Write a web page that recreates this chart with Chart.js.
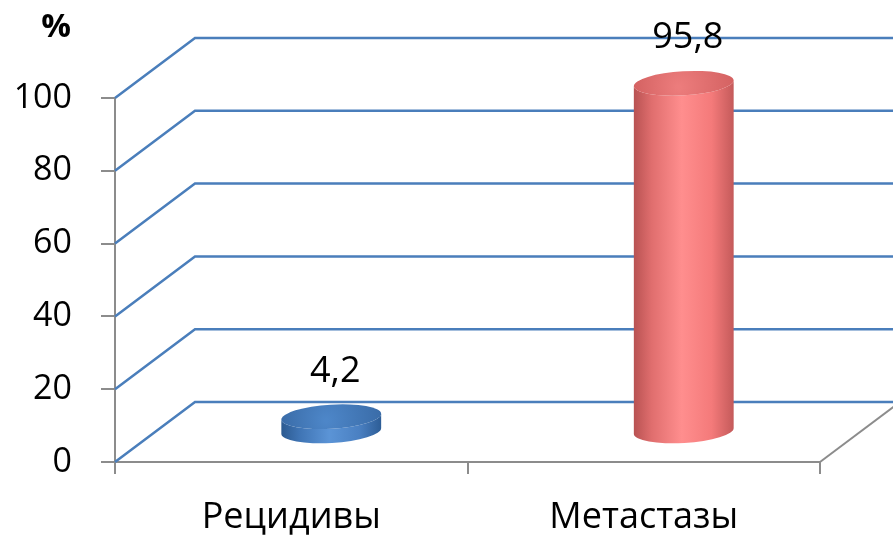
<!DOCTYPE html>
<html>
<head>
<meta charset="utf-8">
<script src="https://cdn.jsdelivr.net/npm/chart.js@4"></script>
<style>
  html, body { margin: 0; padding: 0; background: #fff; }
  #wrap { width: 893px; height: 535px; position: relative; }
</style>
</head>
<body>
<div id="wrap"><canvas id="chart"></canvas></div>
<script>
const categories = ["Рецидивы", "Метастазы"];
const values = [4.2, 95.8];
const valueLabels = ["4,2", "95,8"];
const yTicks = [0, 20, 40, 60, 80, 100];

const FONT = "'Open Sans', 'DejaVu Sans', sans-serif";
const GRID_BLUE = "#4a7ebb";
const AXIS_GREY = "#8c8c8c";
// depth of the fake 3d box
const DEPTH_X = 80;
const DEPTH_Y = 60;

const cylinderStyles = [
  {
    body: ["#2c5a90", "#3f74b4", "#5b94d6", "#4a80c2", "#2d5d96"],
    top: ["#4d86c8", "#3a6ca8"],
  },
  {
    body: ["#b85252", "#e06e6e", "#ff8e8e", "#f47a7a", "#c45a5a"],
    top: ["#ec7c7c", "#d46262"],
  },
];

// sloped gridlines + floor edge, built from the y scale ticks
const boxPlugin = {
  id: "box3d",
  beforeDatasetsDraw(chart) {
    const { ctx, chartArea, scales } = chart;
    const y = scales.y;
    ctx.save();
    ctx.lineWidth = 2.5;
    ctx.strokeStyle = GRID_BLUE;
    yTicks.forEach((t) => {
      const py = y.getPixelForValue(t);
      ctx.beginPath();
      ctx.moveTo(chartArea.left, py);
      ctx.lineTo(chartArea.left + DEPTH_X, py - DEPTH_Y);
      ctx.lineTo(chart.width, py - DEPTH_Y);
      ctx.stroke();
    });
    // right floor edge
    const py0 = y.getPixelForValue(0);
    ctx.strokeStyle = AXIS_GREY;
    ctx.lineWidth = 2;
    ctx.beginPath();
    ctx.moveTo(chartArea.right, py0);
    ctx.lineTo(chartArea.right + DEPTH_X, py0 - DEPTH_Y);
    ctx.stroke();
    ctx.restore();
  },
};

// cylinders drawn over the (invisible) bar elements
const cylinderPlugin = {
  id: "cylinders",
  afterDatasetsDraw(chart) {
    const { ctx } = chart;
    const meta = chart.getDatasetMeta(0);
    meta.data.forEach((bar, i) => {
      const st = cylinderStyles[i];
      const cx = bar.x + DEPTH_X / 2;
      const top = bar.y - DEPTH_Y / 2;
      const base = bar.base - DEPTH_Y / 2;
      const rx = bar.width / 2;
      const ry = 12;
      const rot = -0.06;
      const dx = rx * Math.cos(rot);
      const dy = rx * Math.sin(rot);

      ctx.save();
      const g = ctx.createLinearGradient(cx - rx, 0, cx + rx, 0);
      g.addColorStop(0, st.body[0]);
      g.addColorStop(0.18, st.body[1]);
      g.addColorStop(0.48, st.body[2]);
      g.addColorStop(0.78, st.body[3]);
      g.addColorStop(1, st.body[4]);
      ctx.fillStyle = g;
      ctx.beginPath();
      ctx.moveTo(cx - dx, top - dy);
      ctx.lineTo(cx - dx, base - dy);
      ctx.ellipse(cx, base, rx, ry, rot, Math.PI, 0, true);
      ctx.lineTo(cx + dx, top + dy);
      ctx.ellipse(cx, top, rx, ry, rot, 0, Math.PI, false);
      ctx.closePath();
      ctx.fill();

      const tg = ctx.createRadialGradient(cx - 5, top + 4, 2, cx, top, rx);
      tg.addColorStop(0, st.top[0]);
      tg.addColorStop(1, st.top[1]);
      ctx.fillStyle = tg;
      ctx.beginPath();
      ctx.ellipse(cx, top, rx, ry, rot, 0, Math.PI * 2);
      ctx.fill();

      // value label above the cap
      ctx.fillStyle = "#000";
      ctx.font = "36px " + FONT;
      ctx.textAlign = "center";
      ctx.textBaseline = "alphabetic";
      ctx.fillText(valueLabels[i], cx + 4, top - ry - 23);
      ctx.restore();
    });

    // axis unit
    ctx.save();
    ctx.fillStyle = "#000";
    ctx.font = "bold 33px " + FONT;
    ctx.textAlign = "center";
    ctx.textBaseline = "middle";
    ctx.fillText("%", 56, 28);
    ctx.restore();
  },
};

new Chart(document.getElementById("chart"), {
  type: "bar",
  data: {
    labels: categories,
    datasets: [
      {
        data: values,
        backgroundColor: "rgba(0,0,0,0)",
        borderWidth: 0,
        barThickness: 100,
      },
    ],
  },
  plugins: [boxPlugin, cylinderPlugin],
  options: {
    responsive: true,
    maintainAspectRatio: false,
    animation: false,
    events: [],
    layout: { padding: { top: 98, right: 73, left: 0, bottom: 0 } },
    plugins: {
      legend: { display: false },
      tooltip: { enabled: false },
    },
    scales: {
      x: {
        afterFit(scale) {
          scale.height = 73;
        },
        border: { color: AXIS_GREY, width: 2 },
        grid: {
          offset: true,
          drawOnChartArea: false,
          color: AXIS_GREY,
          lineWidth: 2,
          tickLength: 12,
        },
        ticks: {
          color: "#000",
          font: { family: FONT, size: 36 },
          padding: 22,
        },
      },
      y: {
        min: 0,
        max: 100,
        afterFit(scale) {
          scale.width = 115;
        },
        afterBuildTicks(scale) {
          scale.ticks = yTicks.map((v) => ({ value: v }));
        },
        border: { color: AXIS_GREY, width: 2 },
        grid: {
          drawOnChartArea: false,
          color: AXIS_GREY,
          lineWidth: 2,
          tickLength: 14,
        },
        ticks: {
          color: "#000",
          font: { family: FONT, size: 34 },
          padding: 29,
        },
      },
    },
  },
});
</script>
</body>
</html>
